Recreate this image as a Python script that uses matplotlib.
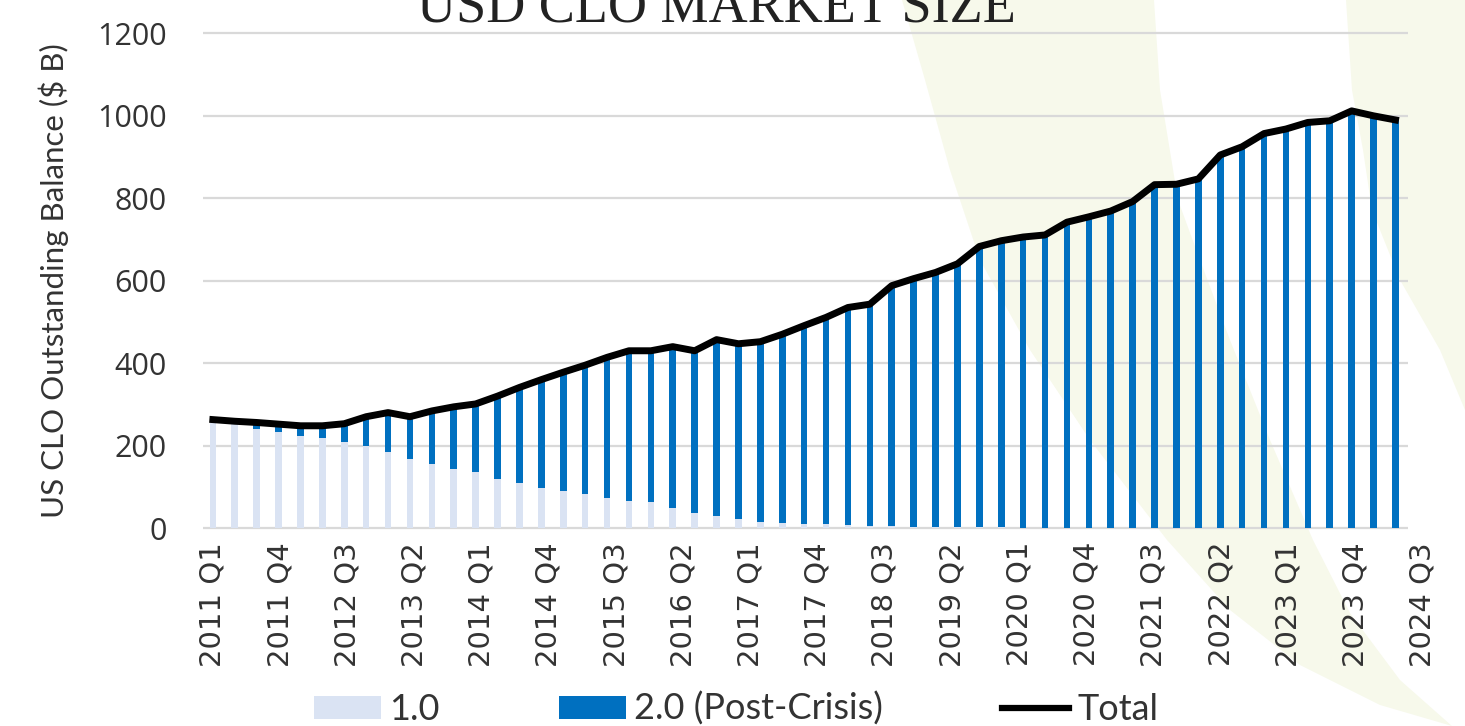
import numpy as np
import matplotlib
matplotlib.use("Agg")
import matplotlib.pyplot as plt
from matplotlib.patches import Polygon, Patch
from matplotlib.lines import Line2D

# quarters 2011 Q1 .. 2024 Q3
quarters = [f"{y} Q{q}" for y in range(2011, 2025) for q in range(1, 5)][:55]

# outstanding balance, $B
clo_1 = [260, 255, 240, 232, 223, 218, 209, 198, 185, 167,
         155, 143, 136, 120, 109, 96, 90, 83, 72, 66,
         64, 48, 37, 29, 21, 15, 13, 9, 9, 7,
         5, 4, 3, 3, 2, 2, 2, 1, 1, 1,
         1, 1, 1, 1, 0, 0, 0, 0, 0, 0,
         0, 0, 0, 0, 0]
clo_2 = [3, 4, 16, 20, 25, 30, 44, 72, 95, 103,
         129, 151, 165, 200, 232, 264, 288, 312, 342, 364,
         366, 392, 393, 428, 426, 437, 457, 482, 502, 528,
         538, 584, 602, 617, 639, 681, 695, 705, 710, 741,
         754, 768, 791, 832, 834, 847, 905, 925, 957, 968,
         984, 988, 1012, 1000, 990]

y_ticks = [0, 200, 400, 600, 800, 1000, 1200]
label_every = 3

c_light = "#DAE3F3"
c_blue = "#0070C0"
c_grid = "#D9D9D9"
c_text = "#333333"
c_swoosh = "#F7F9EB"

W, H = 1465, 726
fig = plt.figure(figsize=(W / 100, H / 100), dpi=100)

# decorative background swooshes (pixel coords, y from top)
def px(pts):
    return [(x / W, 1 - y / H) for x, y in pts]

crescent = [(902, 0), (925, 80), (950, 170), (980, 260), (1030, 350), (1090, 440),
            (1167, 540), (1230, 610), (1300, 665), (1380, 705), (1452, 726),
            (1400, 680), (1350, 613), (1313, 540), (1270, 440), (1230, 340),
            (1200, 260), (1178, 200), (1160, 90), (1154, 0)]
band = [(1346, 0), (1352, 90), (1363, 150), (1372, 210), (1400, 280), (1440, 350),
        (1465, 410), (1465, 0)]
for shape in (crescent, band):
    fig.patches.append(Polygon(px(shape), closed=True, transform=fig.transFigure,
                               facecolor=c_swoosh, edgecolor="none", zorder=-5))

x = np.arange(len(quarters))
x0, x1 = -0.45, 55.6
ax = fig.add_axes([203 / W, (H - 528) / H, (x1 - x0) * 21.9 / W, 494.6 / H])
ax.set_facecolor("none")

a = np.array(clo_1, dtype=float)
b = np.array(clo_2, dtype=float)
total = a + b

ax.bar(x, a, width=0.3, color=c_light, zorder=2)
ax.bar(x, b, bottom=a, width=0.3, color=c_blue, zorder=2)
ax.plot(x, total, color="black", lw=5, solid_joinstyle="round", zorder=4)

ax.set_xlim(x0, x1)
ax.set_ylim(0, 1200)
# grid stops at the plot area edge; axis labels run a little past it
ax.hlines(y_ticks, x0, 54.55, color=c_grid, lw=1.6, zorder=1, clip_on=False)
for s in ax.spines.values():
    s.set_visible(False)

# category labels are spaced slightly wider than the bars in the original
lab_idx = np.arange(0, len(quarters), label_every)
ax.set_xticks(lab_idx * 1.023)
ax.set_xticklabels([quarters[i] for i in lab_idx], rotation=90,
                   fontsize=21, family="DejaVu Sans", color=c_text)
ax.set_yticks(y_ticks)
ax.set_yticklabels([str(v) for v in y_ticks], fontsize=22, family="Open Sans",
                   color=c_text)
ax.tick_params(axis="x", length=0, pad=10)
ax.tick_params(axis="y", length=0, pad=26)

ax.set_ylabel("US CLO Outstanding Balance ($ B)", fontsize=22.5, family="Lato",
              color=c_text)
ax.yaxis.set_label_coords(-0.109, 0.5)

fig.text(716 / W, 1 - 22 / H, "USD CLO MARKET SIZE", ha="center", va="baseline",
         fontsize=39, family="Liberation Serif", color="#222222")

handles = [Patch(facecolor=c_light), Patch(facecolor=c_blue),
           Line2D([], [], color="black", lw=4.5)]
fig.legend(handles, ["1.0", "2.0 (Post-Crisis)", "Total"], loc="center",
           bbox_to_anchor=(736 / W, 1 - 709 / H), ncol=3, frameon=False,
           prop={"family": "Lato", "size": 26}, handlelength=1.86,
           handleheight=0.6, handletextpad=0.22, columnspacing=3.3,
           labelcolor=c_text)

fig.savefig("out.png", dpi=100)
